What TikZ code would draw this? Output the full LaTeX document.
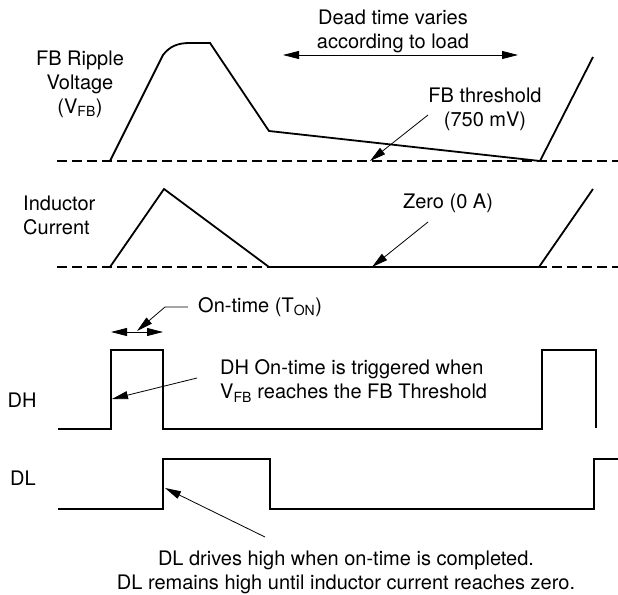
\documentclass[tikz,border=0pt]{standalone}
\usepackage{fontspec}
\setmainfont{TeX Gyre Heros}
\usetikzlibrary{arrows.meta, positioning}

\begin{document}
\begin{tikzpicture}[x=1pt,y=-1pt,>={Triangle[length=16pt,width=8pt]},
	wave/.style={line width=1.8pt, line join=miter},
	zeroline/.style={line width=1.8pt, dash pattern=on 9.5pt off 5.5pt},
	leader/.style={line width=0.8pt},
	lbl/.style={font=\fontsize{20}{24}\selectfont, inner sep=0pt, align=center}]
	
	\useasboundingbox (0,0) rectangle (618,594);
	
	% texts
	\node (fbtxt) [lbl] at (80,84) {FB Ripple\\Voltage\\(V\textsubscript{FB})};
	\node (indtxt) [lbl, align=left, anchor=west] at (23,215) {Inductor\\Current};
	\node (deadtxt) [lbl] at (393,31) {Dead time varies\\according to load};
	\node (thrtxt) [lbl] at (485,109) {FB threshold\\(750 mV)};
	\node (zerotxt) [lbl] at (448,203) {Zero (0 A)};
	\node (ontxt) [lbl, anchor=west] at (198,307) {On-time (T\textsubscript{ON})};
	\node (dhtxt) [lbl, align=left, anchor=west] at (220,381) {DH On-time is triggered when\\V\textsubscript{FB} reaches the FB Threshold};
	\node (dh) [lbl] at (22,400) {DH};
	\node (dl) [lbl] at (23,478) {DL};
	\node (dltxt) [lbl] at (346,572) {DL drives high when on-time is completed.\\DL remains high until inductor current reaches zero.};
	
	% ends of the leaders
	\coordinate (deadl) at (283,55);
	\coordinate (deadr) at (518,55);
	\coordinate (thrfrom) at (428,115);
	\coordinate (thrto) at (370,161);
	\coordinate (zerofrom) at (428,222);
	\coordinate (zeroto) at (372,267);
	\coordinate (onl) at (111,332);
	\coordinate (onr) at (163,332);
	\coordinate (onbend) at (165,307);
	\coordinate (onto) at (137,331);
	\coordinate (dhfrom) at (197,378);
	\coordinate (dhto) at (112,399);
	\coordinate (dlfrom) at (265,537);
	\coordinate (dlto) at (165,488);
	
	% FB ripple voltage
	\draw [zeroline] (57,161) -- (618,161);
	\draw [wave] (110,161) -- (163,55) .. controls (170,46) and (178,43) .. (190,43)
		-- (210,43) -- (269,131) -- (540,161) -- (593,57);
	
	% inductor current
	\draw [zeroline] (57,267) -- (618,267);
	\draw [wave] (110,267) -- (164,189) -- (269,267) -- (539,267) -- (593,189);
	
	% DH and DL
	\draw [wave] (58,429) -- (111,429) -- (111,350) -- (163,350) -- (163,429)
		-- (542,429) -- (542,350) -- (596,350) -- (596,428);
	\draw [wave] (58,509) -- (163,509) -- (163,459) -- (270,459) -- (270,509)
		-- (594,509) -- (594,459) -- (618,459);
	
	\draw [leader, <->] (deadl) -- (deadr);
	\draw [leader, ->] (thrfrom) -- (thrto);
	\draw [leader, ->] (zerofrom) -- (zeroto);
	\draw [leader, <->] (onl) -- (onr);
	\draw [leader, ->] ([xshift=-10pt]ontxt.west) -- (onbend) -- (onto);
	\draw [leader, ->] (dhfrom) -- (dhto);
	\draw [leader, ->] (dlfrom) -- (dlto);
	
\end{tikzpicture}
\end{document}
